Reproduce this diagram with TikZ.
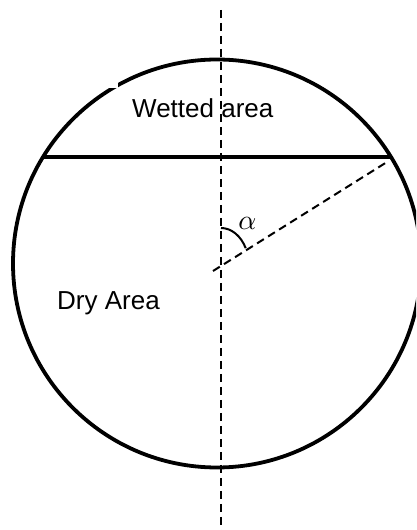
\documentclass[tikz,border=0pt]{standalone}
\usepackage{fontspec}
\setmainfont{Liberation Sans}
\begin{document}
\begin{tikzpicture}[x=1pt,y=1pt,
  outline/.style={line width=3.8pt},
  dashline/.style={line width=2pt,dash pattern=on 8pt off 5pt},
  lbl/.style={font=\fontsize{26}{30}\selectfont,inner sep=0pt,anchor=base west}]
\useasboundingbox (0,0) rectangle (416,530);
\begin{scope}
\clip (0,0) rectangle (416,530);
\coordinate (O) at (217,266.5);
\draw[outline] (O) circle[radius=204];
\fill[white] (100,456) rectangle (117.5,441.5);
\coordinate (cl) at (43,373);
\coordinate (cr) at (391,373);
\draw[outline] (cl) -- (cr);
\coordinate (vtop) at (221,520);
\coordinate (vbot) at (221,0);
\draw[dashline] (vtop) -- (vbot);
\coordinate (r0) at (213,259);
\coordinate (r1) at (387,368);
\draw[dashline] (r0) -- (r1);
\coordinate (V) at (221,264);
\draw[line width=2pt] (221,302) arc[start angle=90,end angle=28,x radius=28,y radius=38];
\node[inner sep=0pt,scale=2.8] (alpha) at (247.5,306.5) {$\alpha$};
\node[lbl] (wet) at (132,412) {Wetted area};
\node[lbl] (dry) at (57,220) {Dry Area};
\end{scope}
\end{tikzpicture}
\end{document}
